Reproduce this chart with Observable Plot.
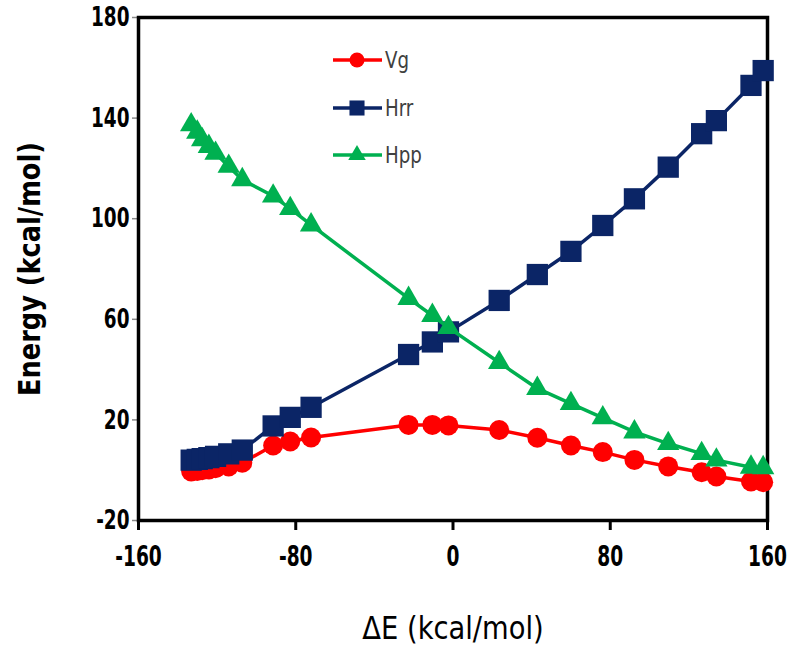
<!DOCTYPE html>
<html><head><meta charset="utf-8">
<script src="https://cdn.jsdelivr.net/npm/d3@7"></script>
<script src="https://cdn.jsdelivr.net/npm/@observablehq/plot@0.6"></script>
<style>
body{margin:0;background:#fff;}
#wrap{position:relative;width:800px;height:650px;}
#legend{position:absolute;left:0;top:0;pointer-events:none;}
</style></head><body><div id="wrap"></div>
<script>
// ΔE values (kcal/mol), shared by all series
const dE  = [-133.2, -130.1, -127.6, -124.2, -120.8, -114.1, -107.2, -91.5, -82.8, -72.2, -22.6, -10.5, -2.3, 23.5, 42.9, 60.0, 76.2, 92.3, 109.5, 126.5, 134.0, 151.6, 157.8];
const vg  = [-0.5, -0.3, 0.0, 0.3, 0.8, 1.5, 3.0, 9.8, 11.4, 13.0, 18.0, 18.0, 17.8, 16.0, 12.9, 9.8, 7.2, 4.1, 1.5, -0.8, -2.5, -4.5, -4.8];
const hrr = [4.0, 4.3, 4.6, 5.0, 5.5, 6.5, 8.0, 17.6, 21.0, 25.0, 46.0, 51.0, 55.0, 67.5, 77.8, 87.0, 97.3, 107.9, 120.5, 133.8, 139.0, 153.0, 158.9];
const hpp = [137.3, 134.4, 131.4, 128.7, 126.0, 120.8, 115.5, 109.0, 104.0, 97.5, 68.3, 61.5, 56.7, 42.8, 32.5, 26.5, 20.8, 15.2, 10.6, 6.6, 4.0, 1.2, 1.0];

const seriesNames = ["Vg", "Hrr", "Hpp"];
const seriesVals = [vg, hrr, hpp];
const seriesColors = ["#FF0000", "#0B2566", "#00B050"];
const seriesSymbols = ["circle", "square", "triangle"];
const seriesR = [10, 12, 8.3];

const xTicks = [-160, -80, 0, 80, 160];
const yTicks = [-20, 20, 60, 100, 140, 180];
const xTitle = "ΔE (kcal/mol)";
const yTitle = "Energy (kcal/mol)";

const FONT = "'DejaVu Sans Condensed', 'DejaVu Sans', sans-serif";

const seriesMarks = seriesVals.flatMap((vals, i) => [
  Plot.line(dE, {x: dE, y: vals, stroke: seriesColors[i], strokeWidth: 3.5}),
  Plot.dot(dE, {x: dE, y: vals, fill: seriesColors[i], symbol: seriesSymbols[i], r: seriesR[i], stroke: "none"})
]);

const chart = Plot.plot({
  width: 800, height: 650,
  marginLeft: 138, marginRight: 33, marginTop: 17, marginBottom: 130,
  x: {domain: [-160, 160]},
  y: {domain: [-20, 180]},
  style: {fontFamily: FONT, background: "white", color: "black"},
  marks: [
    Plot.axisY({ticks: yTicks, tickSize: 6, text: null, stroke: "#888", strokeWidth: 1.5, label: null}),
    Plot.axisY({ticks: yTicks, tickSize: 0, tickPadding: 9, fontSize: 27, fontWeight: "bold", fill: "black", label: null, tickFormat: d => String(d)}),
    Plot.axisX({ticks: xTicks, tickSize: 10, text: null, stroke: "black", strokeWidth: 3, label: null}),
    Plot.axisX({ticks: xTicks, tickSize: 0, tickPadding: 26, fontSize: 28, fontWeight: "bold", fill: "black", label: null, tickFormat: d => String(d)}),
    Plot.frame({stroke: "black", strokeWidth: 3.5}),
    ...seriesMarks,
    Plot.text([yTitle], {frameAnchor: "left", dx: -108, rotate: -90, textAnchor: "middle", lineAnchor: "middle", fontSize: 30, fontWeight: "bold", fill: "black"}),
    Plot.text([xTitle], {frameAnchor: "bottom", dy: 108, textAnchor: "middle", lineAnchor: "middle", fontSize: 32, fill: "black"})
  ]
});
document.getElementById("wrap").appendChild(chart);

// narrow the glyphs horizontally (the original uses a tall, condensed face)
function squeeze(sel, s) {
  chart.querySelectorAll(sel).forEach(t => {
    const x = +(t.getAttribute("x") || 0);
    const tr = t.getAttribute("transform") || "";
    t.setAttribute("transform", `${tr} translate(${x},0) scale(${s},1) translate(${-x},0)`);
  });
}
squeeze('g[aria-label="y-axis tick label"] text', 0.76);
squeeze('g[aria-label="x-axis tick label"] text', 0.74);
squeeze('g[aria-label="text"] text', 0.95);

// Legend overlay (inside the plot area, like the original)
const lg = d3.select("#wrap").append("svg").attr("id", "legend").attr("width", 800).attr("height", 650);
const legY = [60, 108, 155];
const legR = [7.5, 8.5, 6.5];
seriesNames.forEach((name, i) => {
  const g = lg.append("g").attr("transform", `translate(0,${legY[i]})`);
  g.append("line").attr("x1", 333).attr("x2", 382).attr("y1", 0).attr("y2", 0)
    .attr("stroke", seriesColors[i]).attr("stroke-width", 3.5);
  const sym = [d3.symbolCircle, d3.symbolSquare, d3.symbolTriangle][i];
  g.append("path").attr("transform", "translate(357,0)")
    .attr("d", d3.symbol(sym, Math.PI * legR[i] * legR[i])()).attr("fill", seriesColors[i]);
  g.append("text").attr("transform", "translate(385,0) scale(0.88,1)").attr("dy", "0.35em")
    .attr("font-family", FONT).attr("font-size", 23).attr("fill", "#404040").text(name);
});
</script></body></html>
